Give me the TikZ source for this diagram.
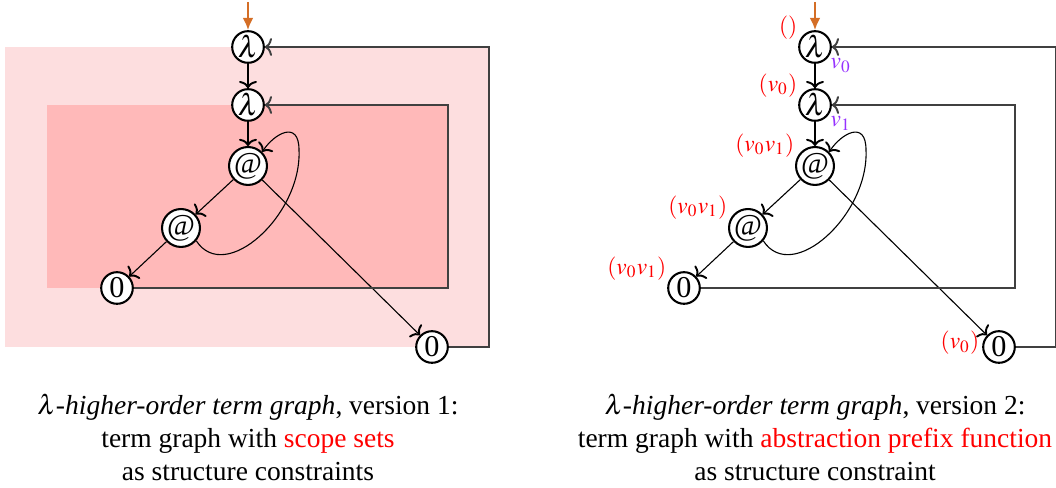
\documentclass[tikz,border=0pt]{standalone}
\usepackage{mathptmx}
\usepackage{fontspec}
\setmainfont{Liberation Serif}
\usetikzlibrary{calc, arrows.meta, positioning}

\definecolor{entrycol}{RGB}{212,110,38}
\definecolor{outerscope}{RGB}{253,222,223}
\definecolor{innerscope}{RGB}{255,185,185}
\definecolor{varcol}{RGB}{150,50,255}

\tikzset{
  vertex/.style={circle, draw, line width=0.75pt, fill=white, inner sep=0pt, minimum size=11.5pt, font=\fontsize{11}{13}\selectfont},
  edge/.style={thin, -{To[length=2.6pt, width=6.5pt, line width=0.7pt]}},
  backedge/.style={edge, draw=black!75},
  entry/.style={draw=entrycol, line width=0.8pt, -{Latex[length=4.5pt, width=4pt]}},
  prefixlab/.style={text=red, inner sep=0.5pt, font=\fontsize{8.5}{10}\selectfont},
  varlab/.style={text=varcol, inner sep=0.5pt, font=\fontsize{8.5}{10}\selectfont},
  caption/.style={align=center, inner sep=0pt}
}

\begin{document}
\begin{tikzpicture}[x=0.3636pt, y=-0.3636pt]
    \useasboundingbox (0,0) rectangle (1056,488);

    % Scope sets of version 1 (outer and inner abstraction)
    \fill[outerscope] (5,47) rectangle (489,347);
    \fill[innerscope] (47,105) rectangle (448,288);

    % Same term graph twice, version 1 left, version 2 right
    \foreach \s/\dx in {one/0, two/567}{
        \node[vertex] (\s-lam1) at ({\dx+248},47) {$\lambda$};
        \node[vertex] (\s-lam2) at ({\dx+248},105) {$\lambda$};
        \node[vertex] (\s-app1) at ({\dx+248},166) {@};
        \node[vertex] (\s-app2) at ({\dx+181},228) {@};
        \node[vertex] (\s-var1) at ({\dx+117},288) {0};
        \node[vertex] (\s-var2) at ({\dx+432},347) {0};

        % root pointer
        \coordinate (\s-in) at ({\dx+248},2);
        \draw[entry] (\s-in) -- (\s-lam1);

        % ordinary edges
        \draw[edge] (\s-lam1) -- (\s-lam2);
        \draw[edge] (\s-lam2) -- (\s-app1);
        \draw[edge] (\s-app1) -- (\s-app2);
        \draw[edge] (\s-app2) -- (\s-var1);
        \draw[edge] (\s-app1) -- (\s-var2);

        % loop back from the lower application
        \draw[edge] (\s-app2.-40) .. controls ($(\s-app2)+(44,57)$) and ($(\s-app1)+(54,49)$) .. ($(\s-app1)+(51,-16)$)
            .. controls ($(\s-app1)+(51,-46)$) and ($(\s-app1)+(27,-33)$) .. (\s-app1.45);

        % variable back-links to their binders
        \coordinate (\s-c1) at ($(\s-lam1)+(241,0)$);
        \coordinate (\s-c2) at ($(\s-lam2)+(200,0)$);
        \draw[backedge] (\s-var2.east) -| (\s-c1) -- (\s-lam1.east);
        \draw[backedge] (\s-var1.east) -| (\s-c2) -- (\s-lam2.east);
    }

    % abstraction prefixes of version 2
    \node[prefixlab, anchor=south east] (two-p1) at (two-lam1.160) {$()$};
    \node[prefixlab, anchor=south east] (two-p2) at (two-lam2.160) {$(v_0)$};
    \node[prefixlab, anchor=south east] (two-p3) at (two-app1.160) {$(v_0v_1)$};
    \node[prefixlab, anchor=south east] (two-p4) at (two-app2.160) {$(v_0v_1)$};
    \node[prefixlab, anchor=south east] (two-p5) at (two-var1.160) {$(v_0v_1)$};
    \node[prefixlab, anchor=east] (two-p6) at ($(two-var2.west)+(-1,-4)$) {$(v_0)$};
    \node[varlab, anchor=north west] (two-n1) at (two-lam1.-35) {$v_0$};
    \node[varlab, anchor=north west] (two-n2) at (two-lam2.-35) {$v_1$};

    % captions
    \node[caption] (one-cap) at (248,437) {$\lambda$\emph{-higher-order term graph}, version 1:\\
        term graph with \textcolor{red}{scope sets}\\ as structure constraints};
    \node[caption] (two-cap) at (815,437) {$\lambda$\emph{-higher-order term graph}, version 2:\\
        term graph with \textcolor{red}{abstraction prefix function}\\ as structure constraint};
\end{tikzpicture}
\end{document}
